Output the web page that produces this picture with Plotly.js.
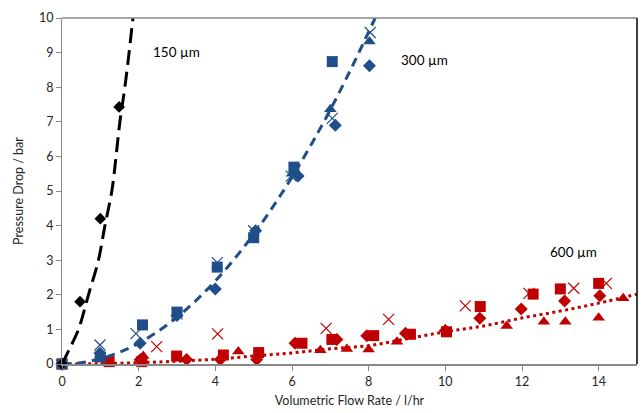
<!DOCTYPE html>
<html>
<head>
<meta charset="utf-8">
<script src="https://cdn.plot.ly/plotly-3.0.1.min.js"></script>
<style>html,body{margin:0;padding:0;background:#fff;}#chart{width:644px;height:413px;}</style>
</head>
<body>
<div id="chart"></div>
<script>
// ---- 150 µm (black) ----
const blackDiamondX = [0, 0.47, 1.0, 1.49];
const blackDiamondY = [0, 1.8, 4.2, 7.43];
const blackFitX = [0, 0.2, 0.43, 0.69, 0.95, 1.12, 1.30, 1.41, 1.51, 1.64, 1.75, 1.85];
const blackFitY = [0, 0.45, 1, 2, 3, 4, 5, 6, 7, 8, 9, 10];

// ---- 300 µm (blue) ----
const blueDiamondX = [0, 0.99, 2.04, 3.0, 4.0, 5.05, 6.16, 7.13, 8.02];
const blueDiamondY = [0, 0.31, 0.6, 1.4, 2.17, 3.85, 5.43, 6.9, 8.62];
const blueSquareX = [0, 1.0, 2.1, 3.0, 4.05, 5.0, 6.05, 7.05];
const blueSquareY = [0, 0.2, 1.13, 1.5, 2.8, 3.65, 5.69, 8.74];
const blueTriangleX = [1.0, 3.0, 6.0, 7.0, 8.02];
const blueTriangleY = [0.25, 1.45, 5.5, 7.36, 9.32];
const blueCrossX = [0.99, 1.93, 3.0, 4.05, 5.0, 5.98, 7.05, 8.04];
const blueCrossY = [0.55, 0.88, 1.45, 2.93, 3.85, 5.43, 7.1, 9.58];
const blueFitX = [0, 0.5, 1, 1.5, 2, 2.5, 3, 3.5, 4, 4.5, 5, 5.5, 6, 6.5, 7, 7.5, 8, 8.17];
const blueFitY = [0, 0.04, 0.15, 0.34, 0.6, 0.94, 1.35, 1.84, 2.4, 3.04, 3.75, 4.54, 5.4, 6.34, 7.35, 8.44, 9.6, 10];

// ---- 600 µm (red) ----
const redSquareX = [0, 1.23, 2.08, 2.99, 4.21, 5.13, 6.26, 7.04, 8.13, 9.09, 10.03, 10.91, 12.29, 13.0, 14.0];
const redSquareY = [0, 0.07, 0.07, 0.23, 0.26, 0.33, 0.6, 0.71, 0.82, 0.86, 0.93, 1.66, 2.02, 2.17, 2.33];
const redDiamondX = [0, 2.04, 3.25, 4.13, 5.08, 6.08, 7.17, 7.95, 8.96, 10.0, 10.9, 11.98, 13.11, 14.03];
const redDiamondY = [0, 0.12, 0.13, 0.13, 0.13, 0.6, 0.71, 0.82, 0.89, 0.97, 1.32, 1.59, 1.82, 1.97];
const redTriangleX = [2.12, 4.6, 6.74, 7.43, 8.0, 8.74, 10.0, 11.6, 12.57, 13.13, 14.0, 14.64];
const redTriangleY = [0.23, 0.36, 0.4, 0.43, 0.42, 0.64, 1.0, 1.1, 1.22, 1.22, 1.34, 1.9];
const redCrossX = [1.12, 2.47, 4.06, 6.89, 8.52, 10.52, 12.18, 13.35, 14.2];
const redCrossY = [0.12, 0.5, 0.87, 1.03, 1.29, 1.68, 2.04, 2.19, 2.33];
const redFitX = [0, 1, 2, 3, 4, 5, 6, 7, 8, 9, 10, 11, 12, 13, 14, 15];
const redFitY = [0, 0.01, 0.04, 0.08, 0.14, 0.23, 0.32, 0.44, 0.53, 0.73, 0.93, 1.1, 1.33, 1.53, 1.76, 2.02];

// ---- labels ----
const sizeLabels = ['150 µm', '300 µm', '600 µm'];
const labelX = [2.98, 9.45, 13.34];
const labelY = [9.02, 8.79, 3.24];

const BLACK = '#000000', BLUE = '#1F4E8A', RED = '#C00000';

function line(x, y, color, dash, width) {
  return {x: x, y: y, mode: 'lines', type: 'scatter', line: {color: color, width: width, dash: dash, shape: 'spline'}, hoverinfo: 'skip', cliponaxis: true};
}
function pts(x, y, color, symbol, size) {
  const isX = symbol === 'x-thin-open';
  return {x: x, y: y, mode: 'markers', type: 'scatter', cliponaxis: false,
    marker: {symbol: symbol, size: size, color: color, line: {color: color, width: isX ? 1.2 : 0}}};
}

const data = [
  line(redFitX, redFitY, RED, '3px,3.5px', 3),
  pts(redCrossX, redCrossY, RED, 'x-thin-open', 11),
  pts(redTriangleX, redTriangleY, RED, 'triangle-up', 11),
  pts(redDiamondX, redDiamondY, RED, 'diamond', 10),
  pts(redSquareX, redSquareY, RED, 'square', 11),
  line(blueFitX, blueFitY, BLUE, '9px,6px', 3),
  pts(blueCrossX, blueCrossY, BLUE, 'x-thin-open', 11),
  pts(blueTriangleX, blueTriangleY, BLUE, 'triangle-up', 11),
  pts(blueDiamondX, blueDiamondY, BLUE, 'diamond', 10),
  pts(blueSquareX, blueSquareY, BLUE, 'square', 11),
  line(blackFitX, blackFitY, BLACK, '15px,7px', 3),
  pts(blackDiamondX, blackDiamondY, BLACK, 'diamond', 9)
];

const font = 'Lato, "Open Sans", sans-serif';
const layout = {
  width: 644, height: 413,
  margin: {l: 62, r: 7, t: 18, b: 49},
  paper_bgcolor: '#ffffff', plot_bgcolor: '#ffffff',
  showlegend: false,
  font: {family: font, size: 12, color: '#262626'},
  xaxis: {
    range: [0, 15], dtick: 2, tick0: 0, showgrid: false, zeroline: false,
    showline: true, linecolor: '#898989', linewidth: 2,
    ticks: 'outside', ticklen: 5, tickcolor: '#898989', tickwidth: 1,
    tickfont: {family: font, size: 12.5, color: '#262626'},
    title: {text: 'Volumetric Flow Rate / l/hr', font: {family: font, size: 12.5, color: '#262626'}, standoff: 8}
  },
  yaxis: {
    range: [0, 10], dtick: 1, tick0: 0, showgrid: false, zeroline: false,
    showline: true, linecolor: '#898989', linewidth: 1,
    ticks: 'outside', ticklen: 5, tickcolor: '#898989', tickwidth: 1,
    tickfont: {family: font, size: 12.5, color: '#262626'},
    title: {text: 'Pressure Drop / bar', font: {family: font, size: 12.5, color: '#262626'}, standoff: 12}
  },
  shapes: [
    {type: 'line', xref: 'paper', yref: 'paper', x0: 0, x1: 1, y0: 1, y1: 1, line: {color: '#898989', width: 1.5}},
    {type: 'line', xref: 'paper', yref: 'paper', x0: 1, x1: 1, y0: 0, y1: 1, line: {color: '#000000', width: 1.5}}
  ],
  annotations: sizeLabels.map((t, i) => ({
    x: labelX[i], y: labelY[i], xref: 'x', yref: 'y', text: t, showarrow: false,
    font: {family: font, size: 13.5, color: '#000000'}
  }))
};

Plotly.newPlot('chart', data, layout, {displayModeBar: false, staticPlot: true});
</script>
</body>
</html>
